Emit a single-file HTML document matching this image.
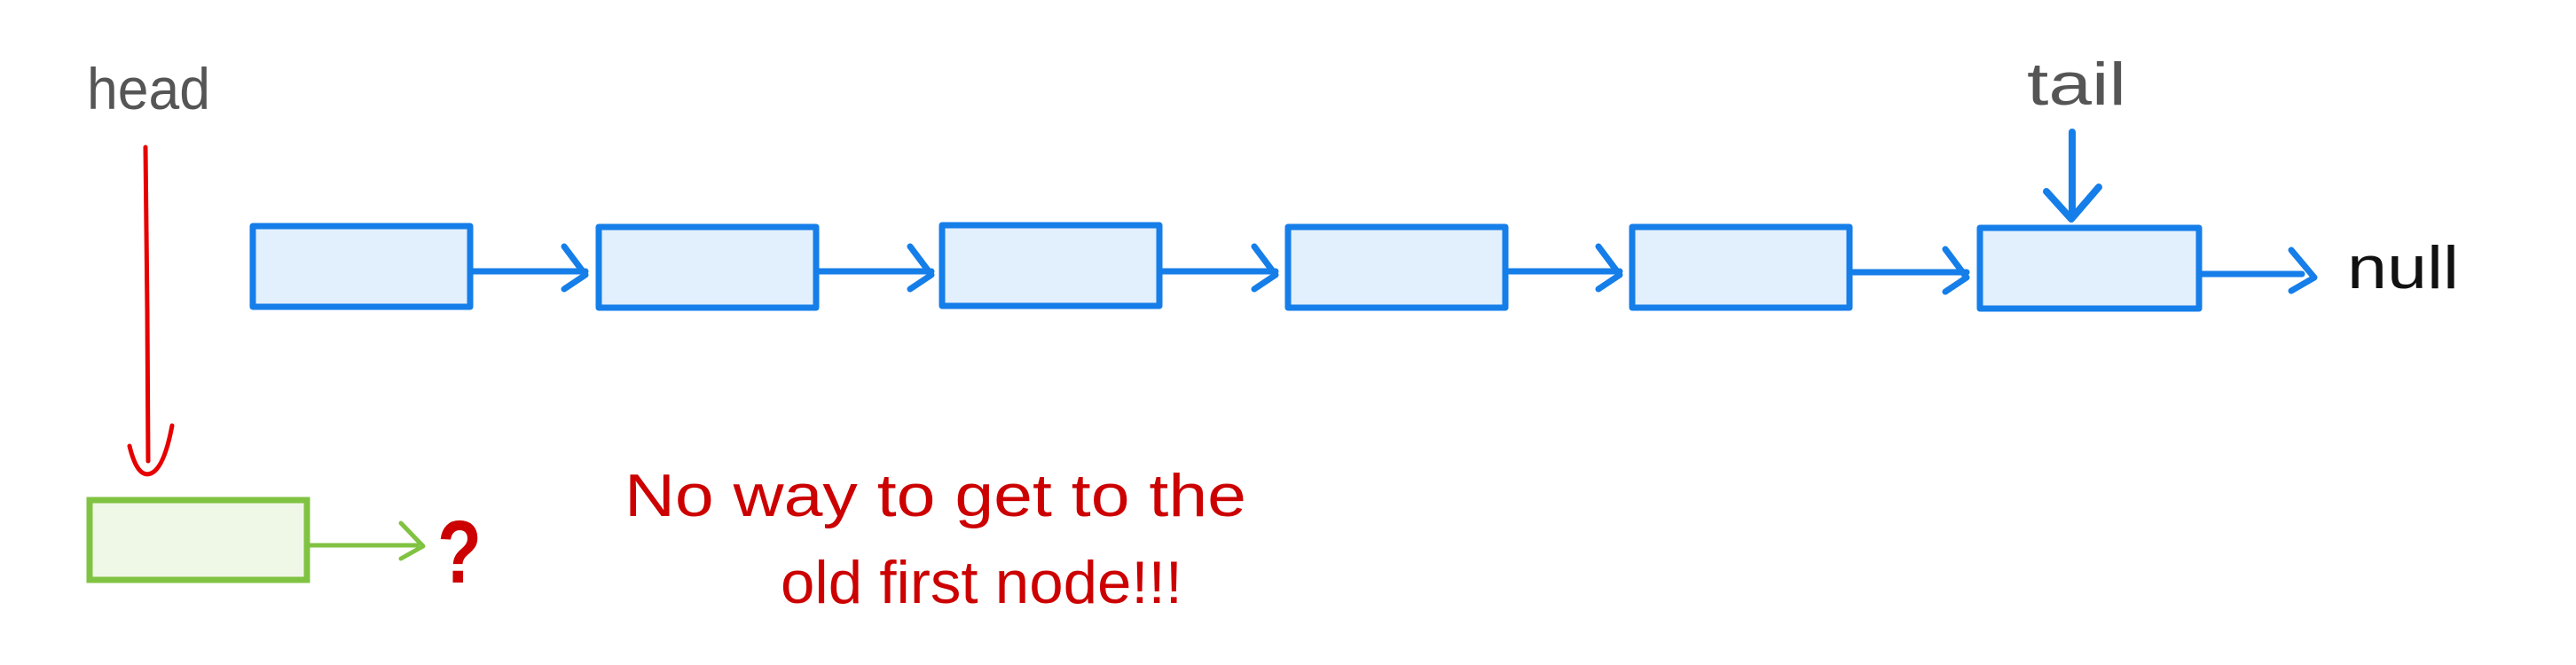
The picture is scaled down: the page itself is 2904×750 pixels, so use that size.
<!DOCTYPE html>
<html><head><meta charset="utf-8"><style>html,body{margin:0;padding:0;background:#fff;}svg{display:block}</style></head>
<body>
<svg width="2904" height="750" viewBox="0 0 2904 750" xmlns="http://www.w3.org/2000/svg">
<g font-family="Liberation Sans, sans-serif">
<text x="98" y="123" font-size="66" fill="#555" textLength="139" lengthAdjust="spacingAndGlyphs">head</text>
<text x="2285" y="118" font-size="68" fill="#555" textLength="112" lengthAdjust="spacingAndGlyphs">tail</text>
<text x="2646" y="325" font-size="68" fill="#111" textLength="126" lengthAdjust="spacingAndGlyphs">null</text>
<text x="704" y="582" font-size="68" fill="#cc0000" textLength="701" lengthAdjust="spacingAndGlyphs">No way to get to the</text>
<text x="880" y="680" font-size="68" fill="#cc0000" textLength="453" lengthAdjust="spacingAndGlyphs">old first node!!!</text>
<text x="493" y="657" font-size="100" font-weight="bold" fill="#cc0000" textLength="50" lengthAdjust="spacingAndGlyphs">?</text>
</g>
<g stroke="#157ee9" stroke-width="7" fill="#e2effc" stroke-linecap="round" stroke-linejoin="round">
<rect x="285" y="255" width="245" height="91"/>
<rect x="675" y="256" width="245" height="91"/>
<rect x="1062" y="254" width="245" height="91"/>
<rect x="1452" y="256" width="245" height="91"/>
<rect x="1840" y="256" width="245" height="91"/>
<rect x="2232" y="257" width="247" height="91"/>
</g>
<g stroke="#157ee9" stroke-width="7" fill="none" stroke-linecap="round" stroke-linejoin="round">
<path d="M532 306 H660 M636 278 L660 310 L636 326"/>
<path d="M922 306 H1050 M1026 278 L1050 310 L1026 326"/>
<path d="M1309 306 H1438 M1414 278 L1438 310 L1414 326"/>
<path d="M1699 306 H1826 M1802 278 L1826 310 L1802 326"/>
<path d="M2087 307 H2217 M2193 281 L2217 313 L2193 329"/>
<path d="M2481 309 H2595 M2583 282 L2609 313 L2583 328"/>
<path d="M2336 149 V245 M2307 216 L2335 247 L2366 211" stroke-width="8"/>
</g>
<rect x="101" y="564" width="245" height="90" fill="#eff7e7" stroke="#80c342" stroke-width="7"/>
<path d="M349 615 H470 M452 590 L477 616 L452 630" stroke="#80c342" stroke-width="5" fill="none" stroke-linecap="round" stroke-linejoin="round"/>
<path d="M164 166 L166 350 L167 520 M146 503 Q155 540 170 534 Q185 528 194 480" stroke="#e60000" stroke-width="5" fill="none" stroke-linecap="round" stroke-linejoin="round"/>
</svg>
</body></html>
